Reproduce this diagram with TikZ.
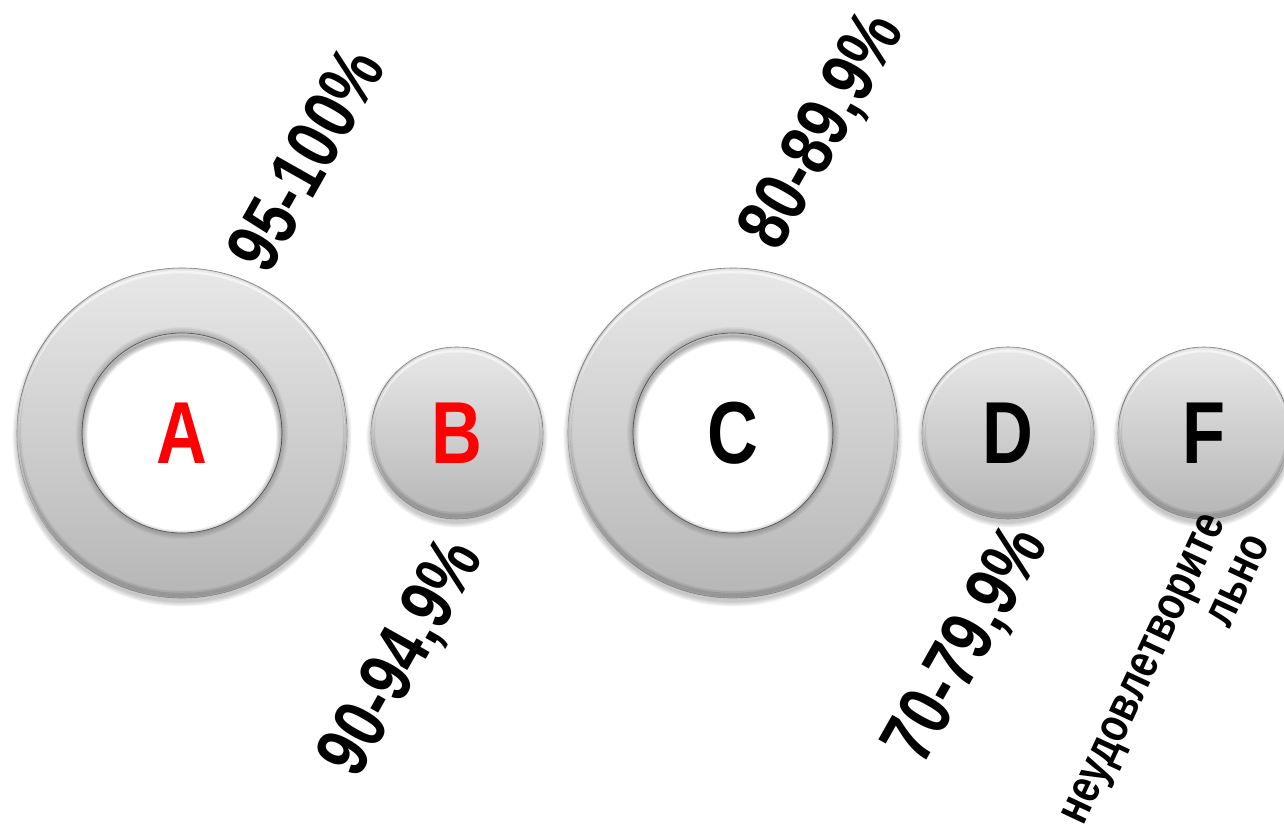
\documentclass[tikz,border=0pt]{standalone}
\usepackage{fontspec}
\setmainfont{Liberation Sans}
\usepackage{graphicx}
\definecolor{disctop}{RGB}{232,232,232}
\definecolor{discbot}{RGB}{182,182,182}
\definecolor{discedge}{RGB}{135,135,135}
\definecolor{holeedge}{RGB}{100,100,100}
\definecolor{gradered}{RGB}{255,0,0}
\newcommand\lettfont{\fontsize{88}{88}\selectfont\bfseries}
\newcommand\gradfont{\fontsize{75}{75}\selectfont\bfseries}
\newcommand\gradffont{\fontsize{48.5}{49}\selectfont\bfseries}
\tikzset{
  disc/.style={circle, inner sep=0pt, minimum size=#1, draw=discedge, line width=0.6pt,
               top color=disctop, bottom color=discbot},
  hole/.style={circle, inner sep=0pt, minimum size=#1, fill=white, draw=holeedge, line width=0.7pt},
  letter/.style={inner sep=0pt, font=\lettfont},
  grade/.style={inner sep=0pt, anchor=base, font=\gradfont, text=black, rotate=60.5},
  gradef/.style={inner sep=0pt, anchor=base east, font=\gradffont, text=black, rotate=65},
}
\begin{document}
\begin{tikzpicture}[x=1pt,y=-1pt]
\useasboundingbox (0,0) rectangle (1284,826);
\clip (0,0) rectangle (1284,826);
% soft shadows under the discs
\foreach \cx/\r in {182/165,457/86,733/165,1008/86,1204/86}{
  \foreach \k in {0,...,5}{
    \fill[black,opacity=0.04] (\cx,437) circle[radius={(\r+\k*0.9)*1pt}];
  }
}
% discs
\node[disc=330pt] (ringA) at (182,433) {};
\node[disc=172pt] (discB) at (457,433) {};
\node[disc=330pt] (ringC) at (733,433) {};
\node[disc=172pt] (discD) at (1008,433) {};
\node[disc=172pt] (discF) at (1204,433) {};
% bevel on the discs
\foreach \cx/\r in {182/165,457/86,733/165,1008/86,1204/86}{
  \begin{scope}
    \clip (\cx,433) circle[radius={\r*1pt}];
    \draw[white,opacity=0.55,line width=2.5pt] (\cx,436) circle[radius={(\r-1)*1pt}];
    \draw[black,opacity=0.10,line width=4pt] (\cx,430) circle[radius={(\r)*1pt}];
    \draw[black,opacity=0.08,line width=8pt] (\cx,430) circle[radius={(\r)*1pt}];
  \end{scope}
}
% shading of the ring surface round the holes
\foreach \cx in {182,733}{
  \foreach \k in {1,...,6}{
    \draw[black,opacity=0.035,line width={\k*2pt}] (\cx,433) circle[radius=100pt];
  }
}
% holes
\node[hole=200pt] (holeA) at (182,433) {};
\node[hole=200pt] (holeC) at (733,433) {};
\foreach \cx in {182,733}{
  \begin{scope}
    \clip (\cx,433) circle[radius=100pt];
    \foreach \k in {1,...,7}{
      \draw[black,opacity=0.05,line width={\k*1.6pt}] (\cx,436) circle[radius=100pt];
    }
  \end{scope}
}
% letters
\node[letter, text=gradered] (lA) at (ringA) {\scalebox{0.8}[1]{A}};
\node[letter, text=gradered] (lB) at (discB) {\scalebox{0.8}[1]{B}};
\node[letter, text=black] (lC) at (ringC) {\scalebox{0.8}[1]{C}};
\node[letter, text=black] (lD) at (discD) {\scalebox{0.8}[1]{D}};
\node[letter, text=black] (lF) at (discF) {\scalebox{0.8}[1]{F}};
% grade ranges
\node[grade] (gA) at (328,172) {\scalebox{0.8}[1]{95-100\%}};
\node[grade] (gB) at (421,669) {\scalebox{0.8}[1]{90-94,9\%}};
\node[grade] (gC) at (842,142) {\scalebox{0.8}[1]{80-89,9\%}};
\node[grade] (gD) at (986,656) {\scalebox{0.8}[1]{70-79,9\%}};
\node[gradef] (gF) at (1226,522) {\scalebox{0.8}[1]{\begin{tabular}[t]{@{}r@{}}неудовлетворите\\льно\end{tabular}}};
\end{tikzpicture}
\end{document}
